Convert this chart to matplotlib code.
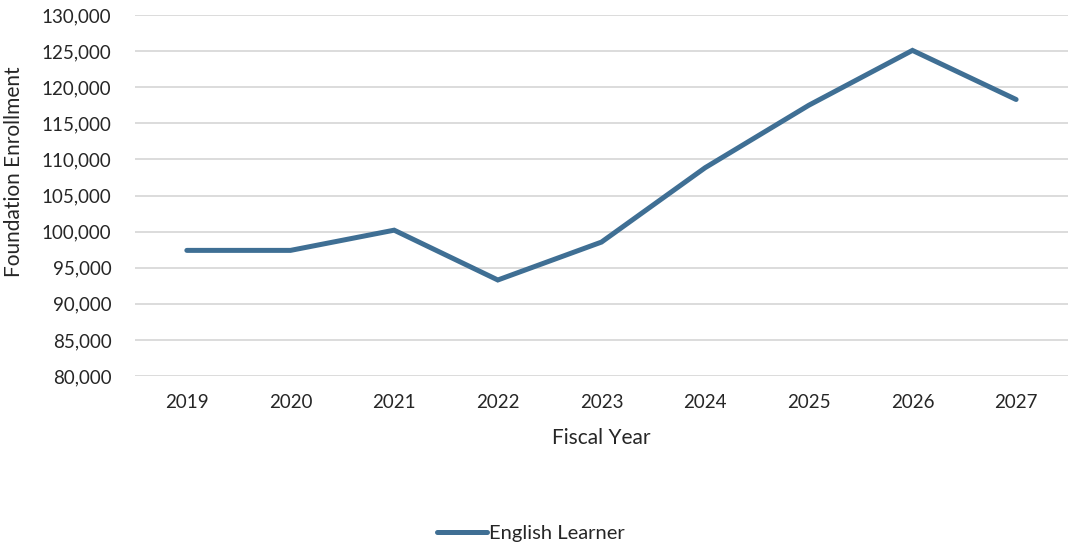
import matplotlib
matplotlib.use("Agg")
import matplotlib.pyplot as plt
from matplotlib.ticker import FuncFormatter

# data
years = ["2019", "2020", "2021", "2022", "2023", "2024", "2025", "2026", "2027"]
enrollment = [97400, 97400, 100200, 93300, 98550, 108850, 117500, 125100, 118300]
series_name = "English Learner"

plt.rcParams['font.family'] = ['Lato', 'DejaVu Sans']

fig = plt.figure(figsize=(10.69, 5.44), dpi=100)
ax = fig.add_axes([0.1263, 0.3088, 0.8727, 0.6636])

line_color = "#3F6F94"
x = range(len(years))
ax.plot(x, enrollment, color=line_color, linewidth=3.6, solid_joinstyle='miter',
        solid_capstyle='round', label=series_name, zorder=3)

ax.set_xlim(-0.5, len(years) - 0.5)
ax.set_ylim(80000, 130000)
ax.set_yticks(range(80000, 130001, 5000))
ax.yaxis.set_major_formatter(FuncFormatter(lambda v, p: f"{int(v):,}"))
ax.set_xticks(list(x))
ax.set_xticklabels(years)

ax.grid(axis='y', color='#D9D9D9', linewidth=1.3)
ax.set_axisbelow(True)
for s in ax.spines.values():
    s.set_visible(False)
ax.tick_params(axis='both', length=0, labelsize=13.5, colors='#262626')
ax.tick_params(axis='y', pad=17)
ax.tick_params(axis='x', pad=13)

fig.text(0.013, 1 - 172 / 544, "Foundation Enrollment", rotation=90,
         ha='center', va='center', fontsize=15, color='#262626')
fig.text(601 / 1069, 1 - 438 / 544, "Fiscal Year", ha='center', va='center',
         fontsize=15, color='#262626')

fig.legend(loc='center', bbox_to_anchor=(531 / 1069, 1 - 533 / 544), frameon=False,
           fontsize=14.5, handlelength=2.5, handletextpad=0.1, labelcolor='#262626')

fig.savefig("out.png", dpi=100)
